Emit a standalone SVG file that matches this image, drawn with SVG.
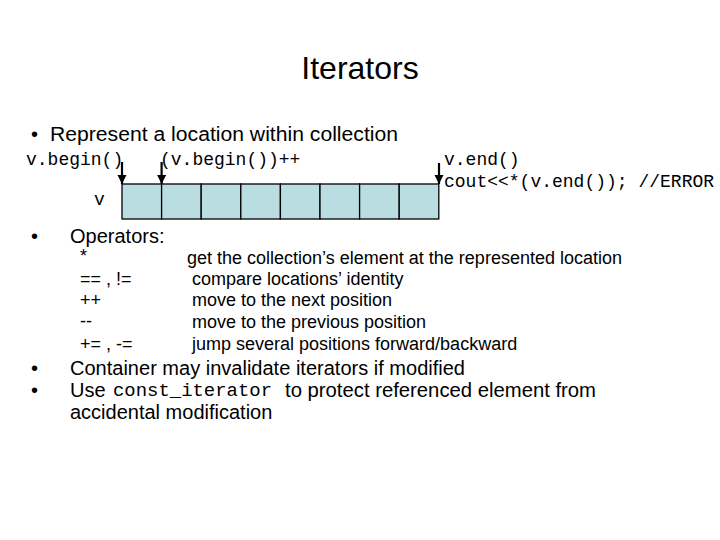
<svg xmlns="http://www.w3.org/2000/svg" width="720" height="540" viewBox="0 0 720 540">
<style>
.s{font-family:"Liberation Sans",Arial,sans-serif;fill:#000}
.m{font-family:"Liberation Mono","Courier New",monospace;fill:#000;font-size:18px}
.cell{fill:#b9dde1;stroke:#000;stroke-width:1.3}
.ar{stroke:#000;stroke-width:2.2;fill:none;marker-end:url(#ah)}
</style>
<defs>
<marker id="ah" markerWidth="9" markerHeight="10" refX="9" refY="4.5" orient="auto" markerUnits="userSpaceOnUse">
<path d="M0,0 L9,4.5 L0,9 z" fill="#000"/>
</marker>
</defs>
<rect width="720" height="540" fill="#fff"/>
<text class="s" x="360" y="79" font-size="32" text-anchor="middle">Iterators</text>
<text class="s" x="31" y="141" font-size="20">•</text>
<text class="s" x="50" y="141" font-size="20" textLength="348" lengthAdjust="spacingAndGlyphs">Represent a location within collection</text>
<g id="labels">
<text class="m" x="26" y="165">v.begin()</text>
<text class="m" x="160" y="165">(v.begin())++</text>
<text class="m" x="444" y="165">v.end()</text>
<text class="m" x="444" y="187">cout&lt;&lt;*(v.end()); //ERROR</text>
<text class="m" x="94" y="205">v</text>
</g>
<g id="vector">
<rect class="cell" x="122" y="184" width="39.6" height="35"/>
<rect class="cell" x="161.6" y="184" width="39.6" height="35"/>
<rect class="cell" x="201.2" y="184" width="39.6" height="35"/>
<rect class="cell" x="240.8" y="184" width="39.6" height="35"/>
<rect class="cell" x="280.4" y="184" width="39.6" height="35"/>
<rect class="cell" x="320" y="184" width="39.6" height="35"/>
<rect class="cell" x="359.6" y="184" width="39.6" height="35"/>
<rect class="cell" x="399.2" y="184" width="39.6" height="35"/>
</g>
<g id="connectors">
<line class="ar" x1="122" y1="162" x2="122" y2="184"/>
<line class="ar" x1="161.6" y1="162" x2="161.6" y2="184"/>
<line class="ar" x1="439" y1="163" x2="439" y2="184"/>
</g>
<text class="s" x="31" y="243" font-size="20">•</text>
<text class="s" x="70" y="243" font-size="20">Operators:</text>
<g class="s" font-size="18">
<text x="80" y="262">*</text>
<text x="80" y="285">== , !=</text>
<text x="80" y="306">++</text>
<text x="80" y="327">--</text>
<text x="80" y="350">+= , -=</text>
<text x="187" y="264" textLength="435" lengthAdjust="spacingAndGlyphs">get the collection’s element at the represented location</text>
<text x="192" y="285">compare locations’ identity</text>
<text x="192" y="306">move to the next position</text>
<text x="192" y="328">move to the previous position</text>
<text x="192" y="350">jump several positions forward/backward</text>
</g>
<text class="s" x="31" y="375" font-size="20">•</text>
<text class="s" x="70" y="375" font-size="20" textLength="395" lengthAdjust="spacingAndGlyphs">Container may invalidate iterators if modified</text>
<text class="s" x="31" y="397" font-size="20">•</text>
<text class="s" x="70" y="397" font-size="20">Use</text>
<text x="113" y="396" font-family="Liberation Mono,Courier New,monospace" font-size="18" textLength="159" lengthAdjust="spacingAndGlyphs">const_iterator</text>
<text class="s" x="285" y="397" font-size="20" textLength="311" lengthAdjust="spacingAndGlyphs">to protect referenced element from</text>
<text class="s" x="70" y="419" font-size="20">accidental modification</text>
</svg>
